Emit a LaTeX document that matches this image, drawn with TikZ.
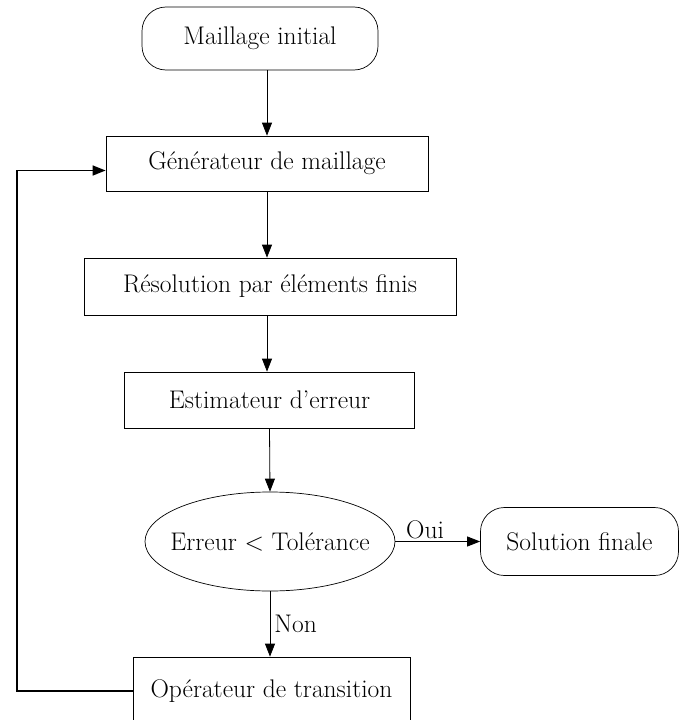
\documentclass[tikz,border=0pt]{standalone}
\usepackage{fontspec}
\usetikzlibrary{arrows.meta,shapes.geometric}
\tikzset{
  txt/.style={font=\fontsize{25.5}{30}\selectfont},
  box/.style={txt, draw, line width=0.7pt, inner sep=0pt},
  roundbox/.style={box, rounded corners=24pt},
  testbox/.style={box, ellipse, inner xsep=-12pt},
  arr/.style={-{Triangle[length=13pt,width=10pt]}, line width=0.8pt},
  back/.style={-{Triangle[length=13pt,width=10pt]}, line width=1.4pt}
}
\begin{document}
\begin{tikzpicture}[x=1pt,y=-1pt]
			%%%%% START %%%%%
			\useasboundingbox (0,0) rectangle (679,720);
			
			\node[roundbox, minimum width=236pt, minimum height=63pt] (init) at (260,38.5) {Maillage initial};
			\node[box, minimum width=322pt, minimum height=55pt] (gen) at (267,163.5) {Générateur de maillage};
			\node[box, minimum width=372pt, minimum height=57pt] (res) at (270,286.5) {Résolution par éléments finis};
			\node[box, minimum width=290pt, minimum height=56pt] (est) at (269.5,400) {Estimateur d'erreur};
			\node[testbox, minimum width=250pt, minimum height=99pt] (test) at (270,541.5) {Erreur < Tolérance};
			\node[roundbox, minimum width=198pt, minimum height=68pt] (sol) at (579.5,541.5) {Solution finale};
			\node[box, minimum width=277pt, minimum height=68pt] (oper) at (271.5,691) {Opérateur de transition};
			
			\draw[arr] (init.south -| gen.north) -- (gen.north);
			\draw[arr] (gen.south) -- (gen.south |- res.north);
			\draw[arr] (res.south -| gen.south) -- (est.north -| gen.south);
			\draw[arr] (est.south) -- (test.north);
			\draw[arr] (test.east) -- (sol.west) node[txt, pos=0.35, above, inner sep=2pt] (oui) {Oui};
			\draw[arr] (test.south) -- (test.south |- oper.north) node[txt, midway, right, inner sep=4pt] (non) {Non};
			
			\coordinate (corner) at (17,691);
			\draw[back] (oper.west) -- (corner) |- ([yshift=-7pt]gen.west);
			
			%%%%% END %%%%%
\end{tikzpicture}
\end{document}
